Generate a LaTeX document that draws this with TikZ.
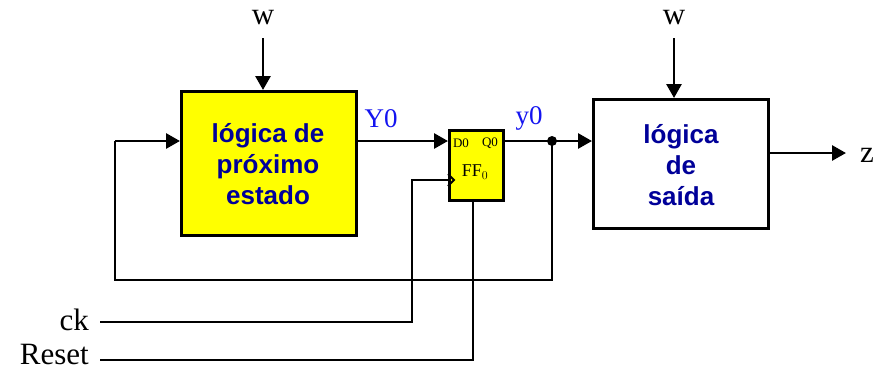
\documentclass[tikz,border=0pt]{standalone}
\usepackage{fontspec}
\setmainfont{Liberation Serif}
\setsansfont{Liberation Sans}
\usetikzlibrary{arrows.meta}
\definecolor{boxyellow}{RGB}{255,255,0}
\definecolor{navy}{RGB}{0,0,153}
\definecolor{sigblue}{RGB}{20,20,240}
\begin{document}
\begin{tikzpicture}[x=1pt,y=-1pt,
  wire/.style={draw, line width=2.8pt},
  arr/.style={wire,-{Triangle[length=14pt,width=15pt]}},
  block/.style={draw, line width=3pt, anchor=north west, inner sep=0pt},
  blocktext/.style={font=\sffamily\bfseries\fontsize{26}{31}\selectfont, text=navy, align=center},
  lbl/.style={font=\fontsize{31}{32}\selectfont, inner sep=0pt},
  sig/.style={font=\fontsize{27}{28}\selectfont, text=sigblue, inner sep=0pt},
  ffsmall/.style={font=\fontsize{13}{14}\selectfont, inner sep=0pt}]
\useasboundingbox (0,0) rectangle (875,368);

% blocks
\node[block, fill=boxyellow, minimum width=175pt, minimum height=144pt] (nsl) at (180,90) {};
\node[blocktext] (nsltxt) at (268,164) {lógica de\\próximo\\estado};
\node[block, fill=white, minimum width=175pt, minimum height=129pt] (out) at (592,98) {};
\node[blocktext] (outtxt) at (681,165) {lógica\\de\\saída};
\node[block, fill=boxyellow, minimum width=54pt, minimum height=70pt] (ff) at (448,129) {};
\node[ffsmall] (d0) at (461,143) {D0};
\node[ffsmall] (q0) at (490,143) {Q0};
\node[font=\fontsize{18}{20}\selectfont, inner sep=0pt] (ffl) at (475,172) {FF$_0$};

% labels
\node[lbl] (w1) at (263,18) {w};
\node[lbl] (w2) at (674,18) {w};
\node[lbl] (z) at (867,155) {z};
\node[lbl, anchor=east] (ck) at (89,320) {ck};
\node[lbl, anchor=east] (rst) at (89,354) {Reset};
\node[sig] (Y0) at (381,119) {Y0};
\node[sig] (y0) at (529,118) {y0};

% coordinates
\coordinate (w1s) at (263,38);
\coordinate (w2s) at (674,38);
\coordinate (dot) at (552,141);
\coordinate (ckin) at (448,180);
\coordinate (ckend) at (100,322);
\coordinate (rstend) at (100,360);
\coordinate (zend) at (846,153);

% wires
\draw[arr] (w1s) -- (w1s |- nsl.north);
\draw[arr] (w2s) -- (w2s |- out.north);
\draw[arr] (nsl.east |- dot) -- (ff.west |- dot);
\draw[arr] (ff.east |- dot) -- (out.west |- dot);
\draw[arr] (out.east |- zend) -- (zend);
\draw[wire] (dot) -- (552,280) -- (115,280) -- (115,141);
\draw[arr] (115,141) -- (nsl.west |- dot);
\fill (dot) circle (5pt);
\draw[wire] (ckend) -- (412,322) -- (412,180) -- (ckin);
\draw[wire] (rstend) -- (473,360) -- (473 ,199);
\draw[line width=2pt] (448,174) -- (454,180) -- (448,186);
\end{tikzpicture}
\end{document}
